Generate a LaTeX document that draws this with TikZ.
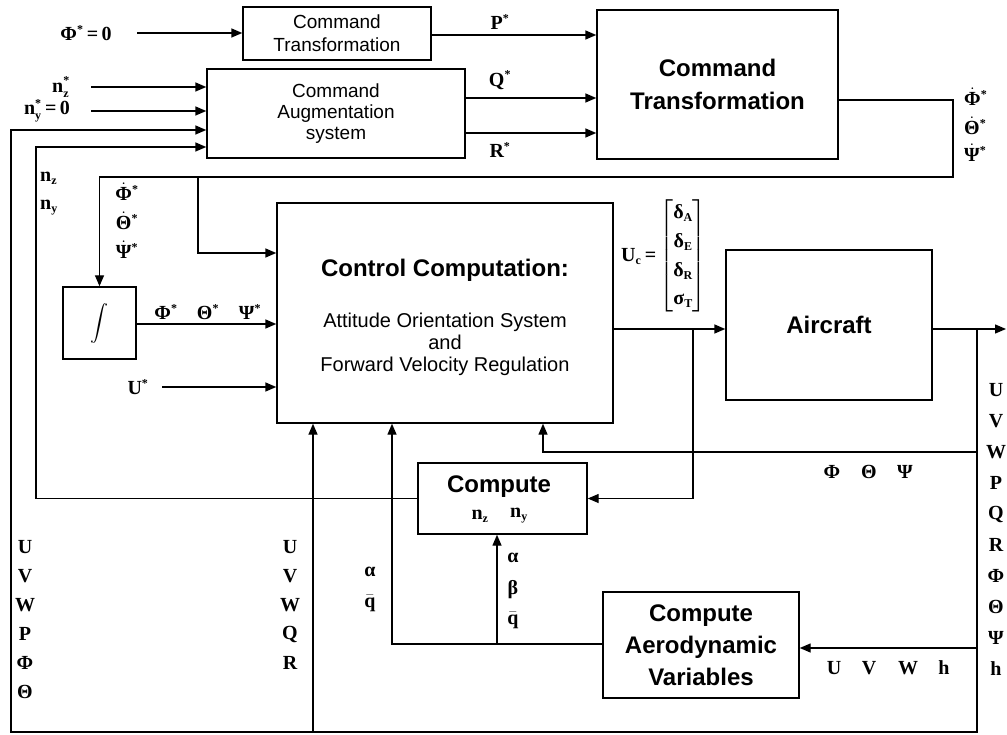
\documentclass[tikz,border=0pt]{standalone}
\usepackage[no-math]{fontspec}
\usepackage{exscale}
\setmainfont{Liberation Serif}
\newfontfamily\sansf{Liberation Sans}
\usetikzlibrary{arrows.meta}
\newcommand\sm[1]{\hbox{\fontsize{12}{12}\selectfont #1}}
\newcommand\sx{$^{\sm{*}}$}
\newcommand\sbx[1]{$_{\sm{#1}}$}
\newcommand\ssb[2]{$^{\sm{#1}}_{\sm{#2}}$}
\newcommand\dt[1]{$\dot{\hbox{#1}}$}
\newcommand\qb{$\bar{\hbox{q}}$}
\begin{document}
\begin{tikzpicture}[x=1pt,y=-1pt,
 blk/.style={draw,line width=1.4pt,inner sep=0pt,align=center},
 ln/.style={line width=1.4pt},
 arr/.style={line width=1.4pt,-{Triangle[length=11pt,width=9pt]}},
 lab/.style={inner sep=0pt,font=\fontsize{20}{22}\selectfont\bfseries},
 rtx/.style={inner sep=0pt,align=center,font=\sansf\fontsize{20}{22}\selectfont},
 btx/.style={inner sep=0pt,align=center,font=\sansf\bfseries\fontsize{24}{33}\selectfont}]
\useasboundingbox (0,0) rectangle (1007,735);

% blocks
\node[blk,minimum width=188pt,minimum height=53pt,font=\sansf\fontsize{19}{23}\selectfont] (ct1) at (337,33.5) {Command\\Transformation};
\node[blk,minimum width=258pt,minimum height=89pt,font=\sansf\fontsize{19}{21}\selectfont] (cas) at (336,113.5) {Command\\Augmentation\\system};
\node[blk,minimum width=241pt,minimum height=149pt,font=\sansf\bfseries\fontsize{24}{33}\selectfont] (ct2) at (717.5,84.5) {Command\\Transformation};
\node[blk,minimum width=73pt,minimum height=72pt] (integ) at (99.5,323) {\scalebox{1.5}{\fontsize{12}{12}\selectfont$\displaystyle\int$}};
\node[blk,minimum width=336pt,minimum height=220pt] (cc) at (445,313) {};
\node[blk,minimum width=206pt,minimum height=150pt,font=\sansf\bfseries\fontsize{24}{33}\selectfont] (ac) at (829,325) {Aircraft};
\node[blk,minimum width=169pt,minimum height=71pt] (cnz) at (502.5,498.5) {};
\node[blk,minimum width=196pt,minimum height=106pt,font=\sansf\bfseries\fontsize{24}{32}\selectfont] (aero) at (701,645) {Compute\\Aerodynamic\\Variables};

% texts inside boxes
\node[btx] (cct) at (445,270) {Control Computation:};
\node[rtx] (ccs) at (445,344) {Attitude Orientation System\\and\\Forward Velocity Regulation};
\node[btx] (cnzt) at (499,487) {Compute};
\node[lab] (cnzx) at (480,516) {n\sbx{z}};
\node[lab] (cnzy) at (519,516) {n\sbx{y}};

% coordinates
\coordinate (in1) at (137,33);
\coordinate (in2) at (91,87);
\coordinate (in3) at (91,111);
\coordinate (in4) at (162,387);
\coordinate (r1) at (953,100);
\coordinate (r2) at (953,177);
\coordinate (j1) at (198,177);
\coordinate (j1b) at (198,253);
\coordinate (j2) at (693,329);
\coordinate (j2b) at (693,498.5);
\coordinate (out) at (1006,329);
\coordinate (rv) at (977,329);
\coordinate (rb) at (977,732);
\coordinate (lb) at (11,732);
\coordinate (lt) at (11,130);
\coordinate (mb) at (313,732);
\coordinate (fw) at (977,452);
\coordinate (fc) at (543,452);
\coordinate (fa) at (977,648);
\coordinate (qa) at (392,644);
\coordinate (qb) at (497,644);
\coordinate (nl) at (36,498.5);
\coordinate (nt) at (36,147);

% connectors
\draw[arr] (in1) -- (in1 -| ct1.west);
\draw[arr] (in2) -- (in2 -| cas.west);
\draw[arr] (in3) -- (in3 -| cas.west);
\draw[arr] (ct1.east |- 0,35) -- (ct2.west |- 0,35);
\draw[arr] (cas.east |- 0,98) -- (ct2.west |- 0,98);
\draw[arr] (cas.east |- 0,133) -- (ct2.west |- 0,133);
\draw[arr] (ct2.east |- r1) -- (r1) -- (r2) -- (integ.north |- r2) -- (integ.north);
\draw[arr] (j1) -- (j1b) -- (j1b -| cc.west);
\draw[arr] (integ.east |- 0,324) -- (cc.west |- 0,324);
\draw[arr] (in4) -- (in4 -| cc.west);
\draw[arr] (cc.east |- j2) -- (j2 -| ac.west);
\draw[arr] (j2) -- (j2b) -- (cnz.east);
\draw[arr] (ac.east |- out) -- (out);
\draw[arr] (rv) -- (rb) -- (lb) -- (lt) -- (lt -| cas.west);
\draw[arr] (fw) -- (fc) -- (cc.south -| fc);
\draw[arr] (fa) -- (fa -| aero.east);
\draw[arr] (aero.west |- qa) -- (qa) -- (cc.south -| qa);
\draw[arr] (qb) -- (cnz.south -| qb);
\draw[arr] (mb) -- (cc.south -| mb);
\draw[arr] (cnz.west) -- (nl) -- (nt) -- (nt -| cas.west);

% labels
\node[lab] (l1) at (86,33) {Φ\sx\,=\,0};
\node[lab,anchor=east] (l2) at (70,87) {n\ssb{*}{z}};
\node[lab,anchor=east] (l3) at (70,111) {n\ssb{*}{y}\,=\,0};
\node[lab] (lp) at (500,22) {P\sx};
\node[lab] (lq) at (500,80) {Q\sx};
\node[lab] (lr) at (500,150) {R\sx};
\node[lab,anchor=west] (rd1) at (964,97) {\dt{Φ}\sx};
\node[lab,anchor=west] (rd2) at (964,126) {\dt{Θ}\sx};
\node[lab,anchor=west] (rd3) at (964,153) {\dt{Ψ}\sx};
\node[lab,anchor=west] (lnz) at (40,178) {n\sbx{z}};
\node[lab,anchor=west] (lny) at (40,208) {n\sbx{y}};
\node[lab] (ld1) at (127,192) {\dt{Φ}\sx};
\node[lab] (ld2) at (127,221) {\dt{Θ}\sx};
\node[lab] (ld3) at (127,250) {\dt{Ψ}\sx};
\node[lab] (la1) at (166,312) {Φ\sx};
\node[lab] (la2) at (208,312) {Θ\sx};
\node[lab] (la3) at (250,312) {Ψ\sx};
\node[lab] (lu) at (138,387) {U\sx};
\node[lab,anchor=west] (luc) at (621,256) {U\sbx{c}\,=\,$\left[\hbox{\renewcommand\arraystretch{1.3}\begin{tabular}{@{}c@{}}δ\sbx{A}\\δ\sbx{E}\\δ\sbx{R}\\σ\sbx{T}\end{tabular}}\right]$};
\node[lab] (le1) at (832,472) {Φ};
\node[lab] (le2) at (869,472) {Θ};
\node[lab] (le3) at (905,472) {Ψ};
\foreach \t [count=\i from 0] in {U,V,W,P,Q,R,Φ,Θ,Ψ,h}
  \node[lab] (rc\i) at (996,390+31*\i) {\t};
\node[lab] (aw1) at (834,668) {U};
\node[lab] (aw2) at (869,668) {V};
\node[lab] (aw3) at (908,668) {W};
\node[lab] (aw4) at (944,668) {h};
\node[lab] (ab1) at (513,558) {α};
\node[lab] (ab2) at (513,590) {β};
\node[lab] (ab3) at (513,620) {\qb};
\node[lab] (aq1) at (370,572) {α};
\node[lab] (aq2) at (370,603) {\qb};
\foreach \t [count=\i from 0] in {U,V,W,Q,R}
  \node[lab] (mc\i) at (290,547+29*\i) {\t};
\foreach \t [count=\i from 0] in {U,V,W,P,Φ,Θ}
  \node[lab] (lc\i) at (25,547+29*\i) {\t};
\end{tikzpicture}
\end{document}
